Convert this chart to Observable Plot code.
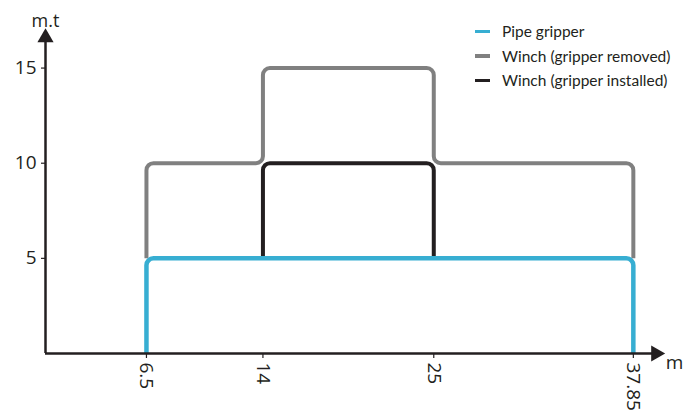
<!DOCTYPE html>
<html>
<head>
<meta charset="utf-8">
<script src="https://cdn.jsdelivr.net/npm/d3@7"></script>
<script src="https://cdn.jsdelivr.net/npm/@observablehq/plot@0.6"></script>
<style>
  body { margin: 0; background: #fff; }
  #wrap { position: relative; width: 696px; height: 420px; font-family: Lato, "Open Sans", sans-serif; }
  #legend { position: absolute; left: 475px; top: 19px; font-size: 15.5px; color: #231f20; }
  #legend .row { display: flex; align-items: center; height: 24.5px; }
  #legend .sw { width: 15px; height: 3.5px; margin-right: 12px; }
</style>
</head>
<body>
<div id="wrap"><div id="legend"></div></div>
<script>
// ---- data ----
const seriesNames = ["Pipe gripper", "Winch (gripper removed)", "Winch (gripper installed)"];
const seriesColors = ["#37aed2", "#808080", "#231f20"];
const pipeX = [6.5, 6.5, 37.85, 37.85];
const pipeY = [0, 5, 5, 0];
const removedX = [6.5, 6.5, 14, 14, 25, 25, 37.85, 37.85];
const removedY = [5, 10, 10, 15, 15, 10, 10, 5];
const installedX = [14, 14, 25, 25];
const installedY = [5, 10, 10, 5];
const xTicks = [6.5, 14, 25, 37.85];
const yTicks = [5, 10, 15];
const xAxisName = "m";
const yAxisName = "m.t";
const xMax = 40.5, yMax = 17.5;      // scale extents
const xArrow = 39.3, yArrow = 16.6;  // axis arrow tips

// ---- build rows ----
const toRows = (xs, ys, s) => xs.map((x, i) => ({x, y: ys[i], series: s}));
const pipe = toRows(pipeX, pipeY, seriesNames[0]);
const removed = toRows(removedX, removedY, seriesNames[1]);
const installed = toRows(installedX, installedY, seriesNames[2]);

// rounded-corner curve
function roundedCurve(r) {
  return (context) => {
    let pts = [];
    return {
      areaStart() {}, areaEnd() {},
      lineStart() { pts = []; },
      point(x, y) { pts.push([+x, +y]); },
      lineEnd() {
        if (!pts.length) return;
        context.moveTo(pts[0][0], pts[0][1]);
        for (let i = 1; i < pts.length - 1; i++) {
          context.arcTo(pts[i][0], pts[i][1], pts[i + 1][0], pts[i + 1][1], r);
        }
        const l = pts[pts.length - 1];
        context.lineTo(l[0], l[1]);
      }
    };
  };
}
const curve = roundedCurve(7);
const ink = "#231f20";

const chart = Plot.plot({
  width: 696,
  height: 420,
  marginLeft: 45,
  marginRight: 22,
  marginTop: 20,
  marginBottom: 67,
  style: {fontFamily: "'Open Sans', sans-serif", color: ink, background: "#fff"},
  x: {domain: [0, xMax]},
  y: {domain: [0, yMax]},
  marks: [
    Plot.line(removed, {x: "x", y: "y", stroke: seriesColors[1], strokeWidth: 4, curve, strokeLinecap: "butt"}),
    Plot.line(installed, {x: "x", y: "y", stroke: seriesColors[2], strokeWidth: 4, curve, strokeLinecap: "butt"}),
    Plot.line(pipe, {x: "x", y: "y", stroke: seriesColors[0], strokeWidth: 4.5, curve, strokeLinecap: "butt"}),
    Plot.ruleY([0], {x1: 0, x2: xArrow, stroke: ink, strokeWidth: 2.5}),
    Plot.ruleX([0], {y1: 0, y2: yArrow, stroke: ink, strokeWidth: 2.5}),
    Plot.dot([{x: xArrow, y: 0}], {x: "x", y: "y", symbol: "triangle", rotate: 90, r: 6, fill: ink, stroke: null}),
    Plot.dot([{x: 0, y: yArrow}], {x: "x", y: "y", symbol: "triangle", r: 6, fill: ink, stroke: null}),
    Plot.axisX(xTicks, {tickSize: 5, tickRotate: 90, tickPadding: 4, fontSize: 19, label: null, tickFormat: d => String(d), stroke: ink, strokeWidth: 1.2}),
    Plot.axisY(yTicks, {tickSize: 4, tickPadding: 5, fontSize: 19, label: null, tickFormat: d => String(d), stroke: ink, strokeWidth: 1.2}),
    Plot.text([yAxisName], {frameAnchor: "top-left", dy: -6, textAnchor: "middle", fontSize: 18, fill: ink}),
    Plot.text([xAxisName], {frameAnchor: "bottom-right", dy: 15, textAnchor: "middle", fontSize: 19, fill: ink})
  ]
});
const wrap = document.getElementById("wrap");
wrap.insertBefore(chart, wrap.firstChild);

const legend = document.getElementById("legend");
seriesNames.forEach((n, i) => {
  const row = document.createElement("div");
  row.className = "row";
  const sw = document.createElement("span");
  sw.className = "sw";
  sw.style.background = seriesColors[i];
  const t = document.createElement("span");
  t.textContent = n;
  row.appendChild(sw); row.appendChild(t);
  legend.appendChild(row);
});
</script>
</body>
</html>
